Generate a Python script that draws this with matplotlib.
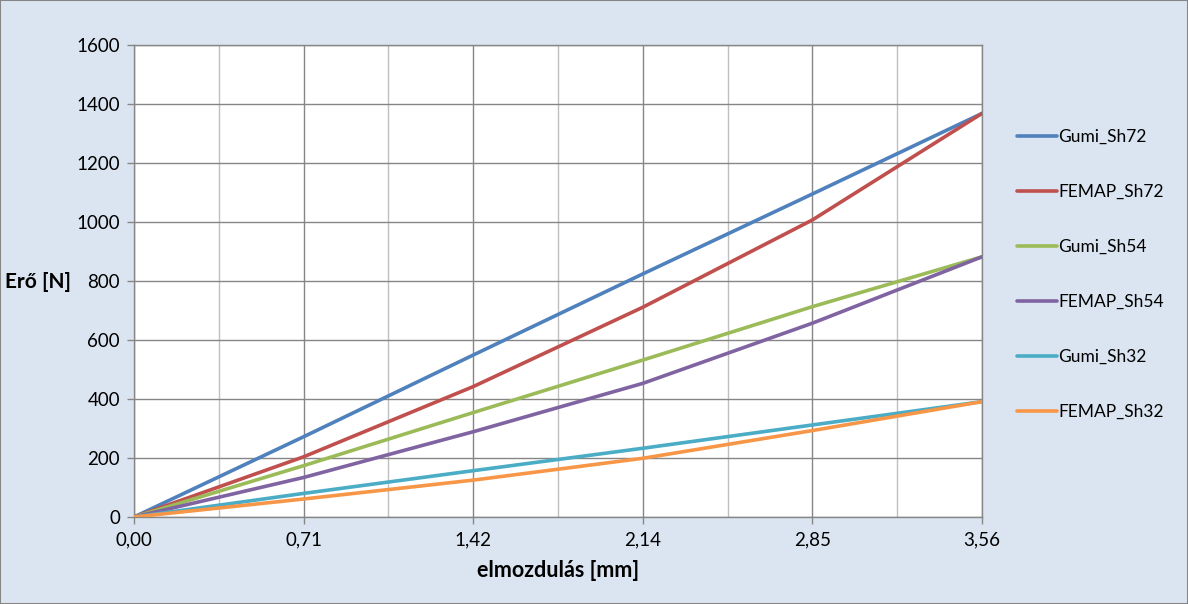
import matplotlib
matplotlib.use('Agg')
import matplotlib.pyplot as plt
from matplotlib.patches import Rectangle

# elmozdulás [mm] - measurement points
displacement = [0.0, 0.712, 1.424, 2.136, 2.848, 3.56]
x_tick_labels = ['0,00', '0,71', '1,42', '2,14', '2,85', '3,56']

# Erő [N], values
gumi_sh72 = [0, 272, 549, 824, 1095, 1368]
femap_sh72 = [0, 204, 442, 711, 1007, 1368]
gumi_sh54 = [0, 174, 354, 532, 713, 882]
femap_sh54 = [0, 134, 289, 453, 657, 882]
gumi_sh32 = [0, 80, 157, 233, 312, 391]
femap_sh32 = [0, 61, 125, 199, 293, 391]

series_names = ['Gumi_Sh72', 'FEMAP_Sh72', 'Gumi_Sh54', 'FEMAP_Sh54', 'Gumi_Sh32', 'FEMAP_Sh32']
series_values = [gumi_sh72, femap_sh72, gumi_sh54, femap_sh54, gumi_sh32, femap_sh32]
# Excel 2007 default palette
colors = ['#4F81BD', '#C0504D', '#9BBB59', '#8064A2', '#4BACC6', '#F79646']

plt.rcParams['font.family'] = ['Lato', 'DejaVu Sans']

bg = '#DBE5F1'
grid_dark = '#868686'
grid_light = '#BFBFBF'

fig = plt.figure(figsize=(11.88, 6.04), dpi=100, facecolor=bg)
ax = fig.add_axes([134 / 1188, 87 / 604, 848 / 1188, 472 / 604])
ax.set_facecolor('white')

for name, values, color in zip(series_names, series_values, colors):
    ax.plot(displacement, values, color=color, linewidth=2.6, label=name,
            solid_capstyle='round', zorder=3)

ax.set_xlim(0, 3.56)
ax.set_ylim(0, 1600)
ax.set_xticks(displacement)
ax.set_xticklabels(x_tick_labels)
ax.set_xticks([d + 0.356 for d in displacement[:-1]], minor=True)
ax.set_yticks(range(0, 1601, 200))

# gridlines like in excel: major darker, minor lighter
ax.grid(which='major', axis='both', color=grid_dark, linewidth=1.0, zorder=1)
ax.grid(which='minor', axis='x', color=grid_light, linewidth=1.0, zorder=1)
ax.set_axisbelow(True)

ax.tick_params(which='major', direction='out', length=5, width=1, color=grid_dark,
               labelsize=13.5, labelcolor='black', pad=5)
ax.tick_params(which='minor', length=0)
for spine in ax.spines.values():
    spine.set_color(grid_dark)
    spine.set_linewidth(1.0)

ax.set_xlabel('elmozdulás [mm]', fontsize=15.5, fontweight='bold', labelpad=9)
fig.text(5 / 1188, 1 - 282 / 604, 'Erő [N]', fontsize=15, fontweight='bold',
         ha='left', va='center')

leg = ax.legend(loc='upper left', bbox_to_anchor=(1010 / 1188, 1 - 122 / 604),
                bbox_transform=fig.transFigure, frameon=False, fontsize=12.5,
                handlelength=2.3, handletextpad=0.1, labelspacing=2.25,
                borderaxespad=0)

# thin grey frame round the whole chart
fig.patches.append(Rectangle((0, 0), 1, 1, transform=fig.transFigure, fill=False,
                             edgecolor='#868686', linewidth=1.5))

plt.savefig('out.png', dpi=100, facecolor=bg)
